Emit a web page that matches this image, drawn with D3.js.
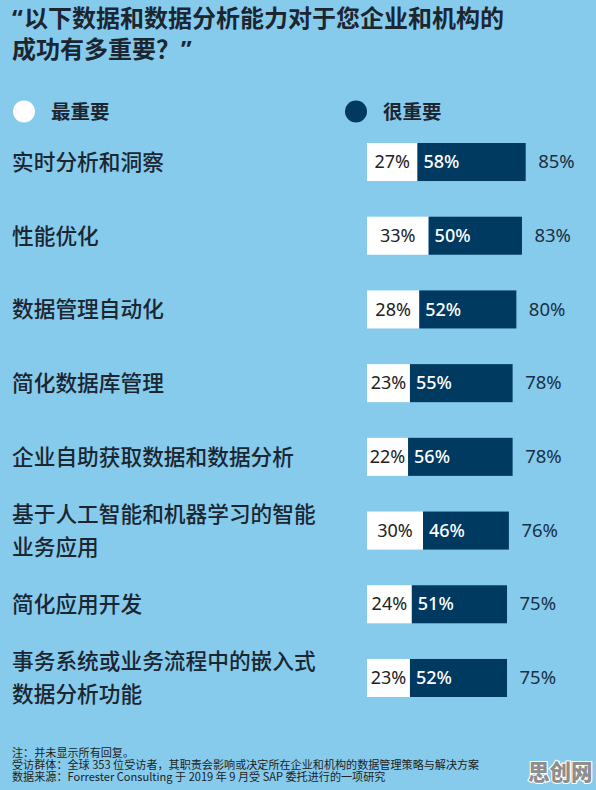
<!DOCTYPE html>
<html><head><meta charset="utf-8">
<script src="https://cdn.jsdelivr.net/npm/d3@7"></script>
<style>
html,body{margin:0;padding:0;background:#86cbec;}
svg{display:block;}
</style></head>
<body>
<script>
const categories = ["实时分析和洞察","性能优化","数据管理自动化","简化数据库管理","企业自助获取数据和数据分析","基于人工智能和机器学习的智能\n业务应用","简化应用开发","事务系统或业务流程中的嵌入式\n数据分析功能"];
const mostImportant = [27,33,28,23,22,30,24,23];
const veryImportant = [58,50,52,55,56,46,51,52];
const totals = [85,83,80,78,78,76,75,75];
const seriesNames = ["最重要","很重要"];
const titleLines = ["以下数据和数据分析能力对于您企业和机构的","成功有多重要？"];
const notes = ["注：并未显示所有回复。","受访群体：全球 353 位受访者，其职责会影响或决定所在企业和机构的数据管理策略与解决方案","数据来源：Forrester Consulting 于 2019 年 9 月受 SAP 委托进行的一项研究"];

const W=596,H=790;
const BG="#86cbec", NAVY="#003a61", TXT="#1b2631";
const CJK="'Noto Sans CJK SC','Noto Sans',sans-serif";
const NUM="'Noto Sans','Open Sans',sans-serif";

const svg=d3.select("body").append("svg").attr("width",W).attr("height",H);
svg.append("rect").attr("width",W).attr("height",H).attr("fill",BG);

// title
const tg=svg.append("g").attr("fill",TXT).attr("font-weight",700).attr("font-size",24);
tg.append("text").attr("x",12).attr("y",27).attr("font-family",NUM).text("“");
tg.selectAll("text.tl").data(titleLines).join("text").attr("class","tl")
  .attr("x",(d,i)=>i===0?24:12).attr("y",(d,i)=>27+i*31)
  .attr("font-family",CJK).text(d=>d);
tg.append("text").attr("x",181).attr("y",58).attr("font-family",NUM).text("”");

// legend
const colors=d3.scaleOrdinal().domain(seriesNames).range(["#ffffff",NAVY]);
const lg=svg.append("g").selectAll("g").data(seriesNames).join("g")
  .attr("transform",(d,i)=>`translate(${i===0?24:356},111.5)`);
lg.append("circle").attr("r",11).attr("fill",d=>colors(d));
lg.append("text").attr("x",27).attr("y",7).attr("font-family",CJK).attr("font-weight",700)
  .attr("font-size",19.5).attr("fill",TXT).text(d=>d);

const x=d3.scaleLinear().domain([0,100]).range([367,367+186.7]);
const y=d3.scaleBand().domain(categories).range([143,697]).paddingInner(0.484).paddingOuter(0);

const rows=svg.append("g").selectAll("g").data(categories).join("g");

// category labels
rows.each(function(c,i){
  const lines=c.split("\n");
  const cy=y(c)+y.bandwidth()/2;
  const lh=33;
  const t=d3.select(this).append("text").attr("font-family",CJK).attr("font-weight",500)
    .attr("font-size",21.7).attr("fill",TXT);
  lines.forEach((l,j)=>{
    t.append("tspan").attr("x",12).attr("y",cy+(j-(lines.length-1)/2)*lh+7.8).text(l);
  });
});

// bars
rows.append("rect").attr("x",x(0)).attr("y",c=>y(c)).attr("height",y.bandwidth())
  .attr("width",(c,i)=>x(mostImportant[i])-x(0)).attr("fill",colors(seriesNames[0]));
rows.append("rect").attr("x",(c,i)=>x(mostImportant[i])).attr("y",c=>y(c)).attr("height",y.bandwidth())
  .attr("width",(c,i)=>x(mostImportant[i]+veryImportant[i])-x(mostImportant[i])).attr("fill",colors(seriesNames[1]));

// value labels
rows.append("text").attr("x",(c,i)=>(x(0)+x(mostImportant[i]))/2).attr("y",c=>y(c)+y.bandwidth()/2+6.2)
  .attr("text-anchor","middle").attr("font-family",NUM).attr("font-size",18).attr("fill","#222")
  .text((c,i)=>mostImportant[i]+"%");
rows.append("text").attr("x",(c,i)=>x(mostImportant[i])+6).attr("y",c=>y(c)+y.bandwidth()/2+6.2)
  .attr("font-family",NUM).attr("font-size",18).attr("fill","#fff").attr("font-weight",500)
  .text((c,i)=>veryImportant[i]+"%");
rows.append("text").attr("x",(c,i)=>x(totals[i])+12.5).attr("y",c=>y(c)+y.bandwidth()/2+6.2)
  .attr("font-family",NUM).attr("font-size",18.5).attr("fill","#1a3045")
  .text((c,i)=>totals[i]+"%");

// notes
svg.append("g").selectAll("text").data(notes).join("text")
  .attr("x",12).attr("y",(d,i)=>757.3+i*11.6)
  .attr("font-family",CJK).attr("font-size",11.1).attr("fill","#222").text(d=>d);

// watermark
svg.append("text").attr("x",528).attr("y",780).attr("font-family",CJK).attr("font-weight",900)
  .attr("font-size",21.5).attr("fill","#8e8e8e").attr("stroke","#ffffff").attr("stroke-width",2.2)
  .attr("paint-order","stroke").text("思创网");
</script>
</body></html>
